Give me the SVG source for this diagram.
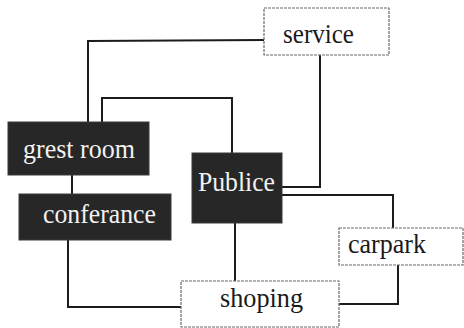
<svg xmlns="http://www.w3.org/2000/svg" width="464" height="328" viewBox="0 0 464 328">
<style>
.dark{fill:#272727;stroke:#3a3a3a;stroke-width:1}
.light{fill:#ffffff;stroke:#6a6a6a;stroke-width:1.2;stroke-dasharray:3 1}
.w{fill:#f2f2f2}
.b{fill:#1a1a1a}
.conn{fill:none;stroke:#1c1c1c;stroke-width:2}
text{font-family:"Liberation Serif",serif;font-size:28px}
</style>
<rect width="464" height="328" fill="#ffffff"/>
<g id="connectors">
<polyline class="conn" points="264,40 88,41 88,122"/>
<polyline class="conn" points="102,122 102,98 232,98 232,153"/>
<polyline class="conn" points="320,55 320,187 282,187"/>
<polyline class="conn" points="72,175 72,194"/>
<polyline class="conn" points="282,195 393,195 393,228"/>
<polyline class="conn" points="398,265 398,304 339,304"/>
<polyline class="conn" points="235,223 235,281"/>
<polyline class="conn" points="68,240 68,307 181,307"/>
</g>
<g id="service">
<rect class="light" x="264" y="8" width="125" height="47"/>
<text class="b" x="283" y="43" textLength="71" lengthAdjust="spacingAndGlyphs">service</text>
</g>
<g id="grest-room">
<rect class="dark" x="8" y="122" width="141" height="53"/>
<text class="w" x="23" y="158" textLength="112" lengthAdjust="spacingAndGlyphs">grest room</text>
</g>
<g id="conferance">
<rect class="dark" x="19" y="194" width="152" height="46"/>
<text class="w" x="43" y="223" textLength="113" lengthAdjust="spacingAndGlyphs">conferance</text>
</g>
<g id="publice">
<rect class="dark" x="192" y="153" width="90" height="70"/>
<text class="w" x="198" y="191" textLength="77" lengthAdjust="spacingAndGlyphs">Publice</text>
</g>
<g id="carpark">
<rect class="light" x="339" y="228" width="124" height="37"/>
<text class="b" x="348" y="253" textLength="78" lengthAdjust="spacingAndGlyphs">carpark</text>
</g>
<g id="shoping">
<rect class="light" x="181" y="281" width="158" height="46"/>
<text class="b" x="220" y="307" textLength="83" lengthAdjust="spacingAndGlyphs">shoping</text>
</g>
</svg>
